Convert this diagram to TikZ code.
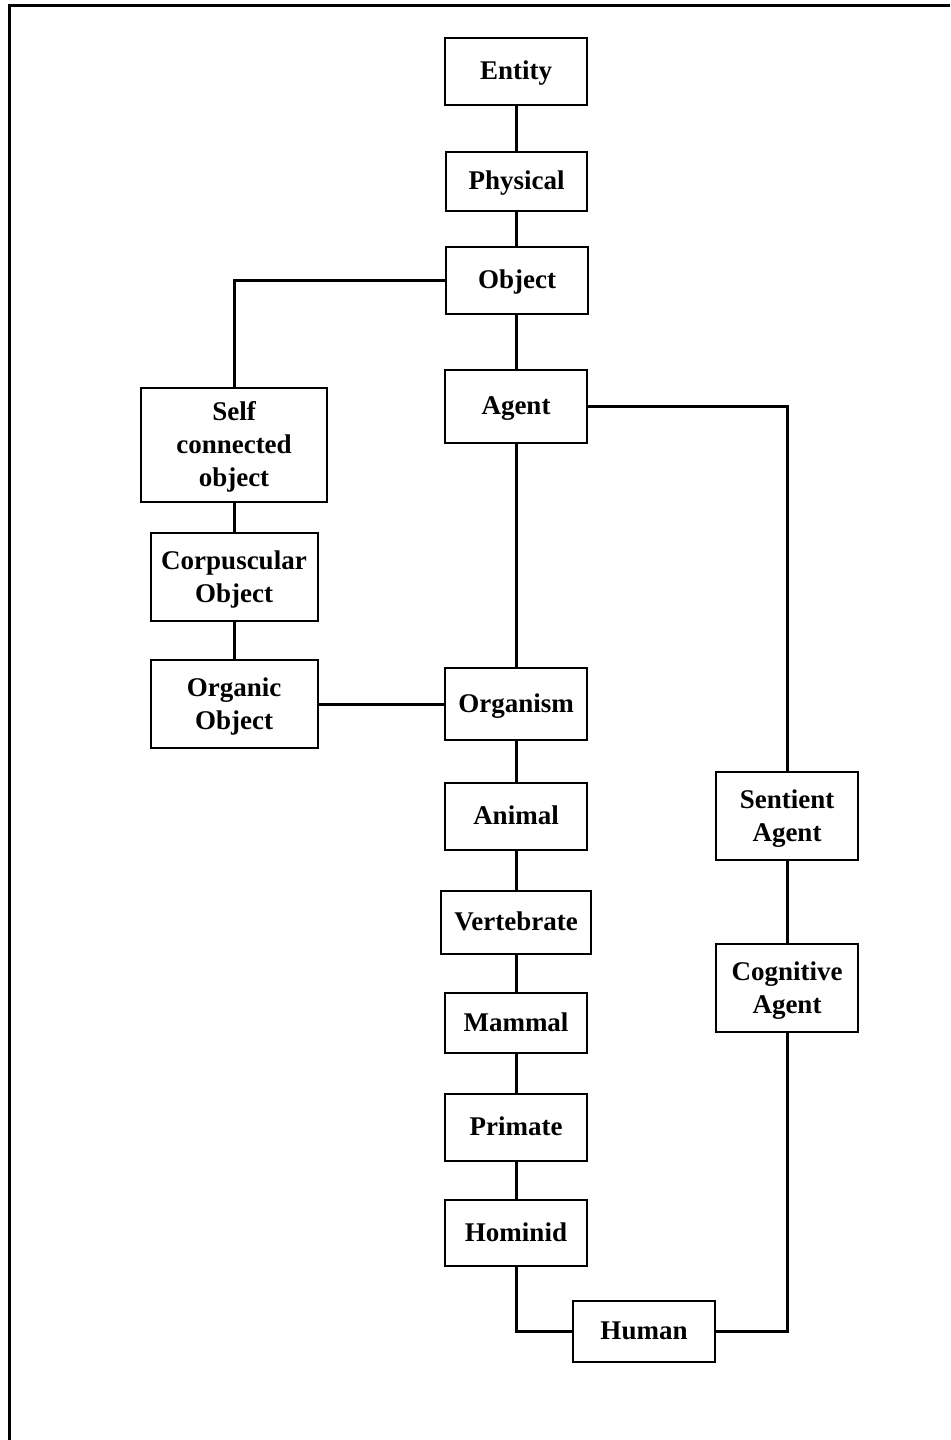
\documentclass[tikz,border=0pt]{standalone}
\usepackage{fontspec}
\setmainfont{Liberation Serif}
\begin{document}
\begin{tikzpicture}[x=0.5pt,y=-0.5pt,
  box/.style={draw,line width=1pt,fill=white,align=center,inner sep=0pt,
    font=\fontsize{13.5}{16.5}\selectfont\bfseries,text depth=0pt,text height=8.9pt},
  % capitals centred in the box for two- and three-line labels
  twolines/.style={text height=25.4pt},
  threelines/.style={text height=41.9pt},
  link/.style={line width=1.5pt}]
\useasboundingbox (0,0) rectangle (950,1440);
% partial page frame
\draw[line width=1.5pt] (9,1440) -- (9,5) -- (950,5);

% central chain
\node[box,minimum width=71pt,minimum height=33.5pt] (entity) at (516,71) {Entity};
\node[box,minimum width=70.5pt,minimum height=29.5pt] (physical) at (516.5,181) {Physical};
\node[box,minimum width=71pt,minimum height=33.5pt] (object) at (517,280) {Object};
\node[box,minimum width=71pt,minimum height=36.5pt] (agent) at (516,406) {Agent};
\node[box,minimum width=71pt,minimum height=36pt] (organism) at (516,704) {Organism};
\node[box,minimum width=71pt,minimum height=33.5pt] (animal) at (516,816) {Animal};
\node[box,minimum width=75pt,minimum height=31.5pt] (vertebrate) at (516,922) {Vertebrate};
\node[box,minimum width=71pt,minimum height=30pt] (mammal) at (516,1023) {Mammal};
\node[box,minimum width=71pt,minimum height=33.5pt] (primate) at (516,1127) {Primate};
\node[box,minimum width=71pt,minimum height=33pt] (hominid) at (516,1233) {Hominid};
\node[box,minimum width=71pt,minimum height=30.5pt] (human) at (644,1331) {Human};

% left branch
\node[box,threelines,minimum width=93pt,minimum height=57pt] (selfobj) at (234,445) {Self\\connected\\object};
\node[box,twolines,minimum width=83.5pt,minimum height=44pt] (corpus) at (234,577) {Corpuscular\\Object};
\node[box,twolines,minimum width=83.5pt,minimum height=44pt] (organic) at (234,704) {Organic\\Object};

% right branch
\node[box,twolines,minimum width=71pt,minimum height=44pt] (sentient) at (787,816) {Sentient\\Agent};
\node[box,twolines,minimum width=71pt,minimum height=44pt] (cognitive) at (787,988) {Cognitive\\Agent};

% connectors
\draw[link] (entity.south) -- (entity.south |- physical.north);
\draw[link] (entity.south |- physical.south) -- (entity.south |- object.north);
\draw[link] (entity.south |- object.south) -- (agent.north);
\draw[link] (agent) -- (organism);
\draw[link] (organism) -- (animal);
\draw[link] (animal) -- (vertebrate);
\draw[link] (vertebrate) -- (mammal);
\draw[link] (mammal) -- (primate);
\draw[link] (primate) -- (hominid);
\draw[link] (hominid.south) |- (human.west);
\draw[link] (object.west) -| (selfobj.north);
\draw[link] (selfobj) -- (corpus);
\draw[link] (corpus) -- (organic);
\draw[link] (organic.east) -- (organism.west);
\draw[link] (agent.east) -| (sentient.north);
\draw[link] (sentient) -- (cognitive);
\draw[link] (cognitive.south) |- (human.east);
\end{tikzpicture}
\end{document}
